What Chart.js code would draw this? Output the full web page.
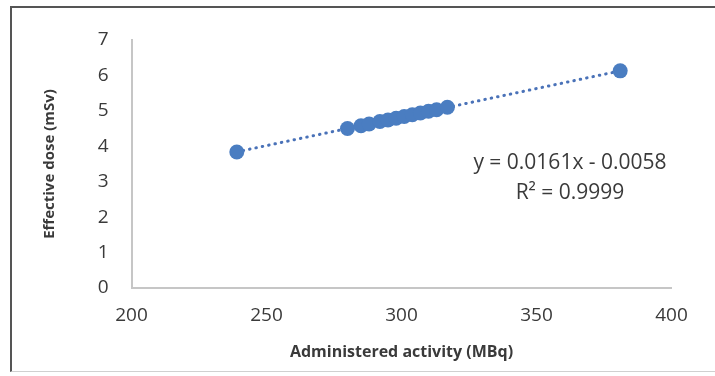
<!DOCTYPE html>
<html>
<head>
<meta charset="utf-8">
<script src="https://cdn.jsdelivr.net/npm/chart.js@4"></script>
<style>
  body { margin: 0; background: #fff; }
  #wrap { position: relative; width: 715px; height: 376px; overflow: hidden; }
  #frame {
    position: absolute; left: 10px; top: 6px; width: 720px; height: 363px;
    border-top: 2px solid #555; border-left: 2px solid #555; border-bottom: 1px solid #d0d0d0;
  }
  canvas { position: absolute; left: 0; top: 0; }
</style>
</head>
<body>
<div id="wrap">
  <div id="frame"></div>
  <canvas id="doseChart" width="715" height="376"></canvas>
</div>
<script>
// --- Data ---
const activity = [239, 280, 285, 288, 292, 295, 298, 301, 304, 307, 310, 313, 317, 381];
const dose = [3.84, 4.50, 4.58, 4.63, 4.70, 4.74, 4.79, 4.84, 4.89, 4.94, 4.99, 5.03, 5.10, 6.13];
const xTicks = [200, 250, 300, 350, 400];
const yTicks = [0, 1, 2, 3, 4, 5, 6, 7];

// trendline as printed on the chart
const slope = 0.0161;
const intercept = -0.0058;
const equationLines = ["y = 0.0161x - 0.0058", "R\u00b2 = 0.9999"];

const points = activity.map((a, i) => ({ x: a, y: dose[i] }));
const xMin = Math.min(...activity);
const xMax = Math.max(...activity);
const trend = [
  { x: xMin, y: slope * xMin + intercept },
  { x: xMax, y: slope * xMax + intercept }
];

const blue = "#4a7dc1";
const textColor = "#3a3a3a";
const axisColor = "#c6c6c6";

// draws the equation label like Excel does
const equationPlugin = {
  id: "equation",
  afterDatasetsDraw(chart) {
    const ctx = chart.ctx;
    ctx.save();
    ctx.fillStyle = textColor;
    ctx.font = "21px 'Open Sans'";
    ctx.textAlign = "center";
    ctx.textBaseline = "middle";
    ctx.fillText(equationLines[0], 570, 163);
    ctx.fillText(equationLines[1], 570, 193);
    ctx.restore();
  }
};

new Chart(document.getElementById("doseChart"), {
  type: "scatter",
  data: {
    datasets: [
      {
        label: "Effective dose",
        data: points,
        backgroundColor: blue,
        borderColor: blue,
        pointRadius: 7.5,
        pointHoverRadius: 7.5,
        borderWidth: 0
      },
      {
        label: "Linear trend",
        type: "line",
        data: trend,
        borderColor: "#4a72b8",
        borderWidth: 3,
        borderDash: [0.5, 6],
        borderCapStyle: "round",
        pointRadius: 0,
        fill: false
      }
    ]
  },
  options: {
    responsive: false,
    animation: false,
    layout: { padding: { left: 0, top: 40, right: 43.5, bottom: 0 } },
    plugins: {
      legend: { display: false },
      tooltip: { enabled: false }
    },
    scales: {
      x: {
        type: "linear",
        min: 200,
        max: 400,
        afterBuildTicks: s => { s.ticks = xTicks.map(v => ({ value: v })); },
        afterFit: s => { s.height = 88; },
        grid: { display: false, drawTicks: false },
        border: { color: axisColor, width: 2 },
        ticks: {
          color: textColor,
          font: { family: "'Open Sans'", size: 19 },
          padding: 16,
          maxRotation: 0
        },
        title: {
          display: true,
          text: "Administered activity (MBq)",
          color: textColor,
          font: { family: "'Open Sans'", size: 16, weight: "bold" },
          padding: { top: 14.4, bottom: 14.4 }
        }
      },
      y: {
        min: 0,
        max: 7,
        afterBuildTicks: s => { s.ticks = yTicks.map(v => ({ value: v })); },
        afterFit: s => { s.width = 131.5; },
        grid: { display: false, drawTicks: false },
        border: { color: axisColor, width: 2 },
        ticks: {
          color: textColor,
          font: { family: "'Open Sans'", size: 19 },
          padding: 23
        },
        title: {
          display: true,
          text: "Effective dose (mSv)",
          color: textColor,
          font: { family: "'Open Sans'", size: 15, weight: "bold" },
          padding: { top: 41, bottom: 41 }
        }
      }
    }
  },
  plugins: [equationPlugin]
});
</script>
</body>
</html>
